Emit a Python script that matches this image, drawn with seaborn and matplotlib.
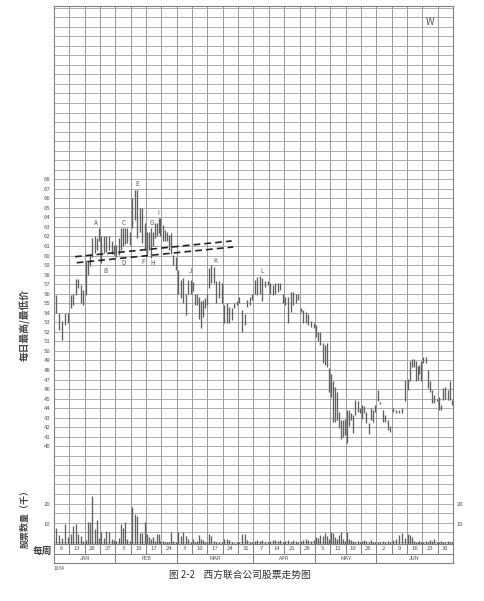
import matplotlib
matplotlib.use("Agg")
import matplotlib.pyplot as plt
import numpy as np
import pandas as pd
import seaborn as sns

# week-ending dates (Saturdays) and months
week_labels = ["6", "13", "20", "27", "3", "10", "17", "24", "3", "10", "17", "24", "31",
               "7", "14", "21", "28", "5", "12", "19", "26", "2", "9", "16", "23", "30"]
months = ["JAN", "FEB", "MAR", "APR", "MAY", "JUN"]
weeks_in_month = [4, 4, 5, 4, 4, 5]

# daily highs / lows, one list per week
high = [
    [55.9, 54.0, 53.1, 54.0, 54.0],
    [55.9, 56.0, 57.5, 57.5, 56.9, 56.4],
    [59.5, 59.4, 60.1, 61.8, 62.0, 61.8, 62.9],
    [62.0, 62.0, 62.0, 62.0, 61.5, 61.1],
    [61.1, 61.8, 62.9, 62.9, 62.9, 62.9, 62.5],
    [66.0, 66.9, 66.9, 65.0, 65.0, 63.4],
    [62.5, 62.5, 62.9, 62.5, 63.4, 63.4, 63.9, 63.9],
    [63.2, 62.7, 62.5, 62.2, 62.4, 60.1, 59.9],
    [58.5, 57.4, 57.6, 56.0, 57.4, 57.4],
    [57.2, 56.0, 56.0, 55.7, 55.2, 55.3, 55.5, 56.0],
    [58.7, 59.0, 58.8, 57.3, 57.3, 57.1],
    [54.8, 55.0, 54.6, 54.5, 55.0, 55.2],
    [55.7, 54.3, 53.9, 55.3, 55.7, 56.0],
    [57.4, 57.8, 57.9, 57.6, 57.3, 57.3],
    [57.1, 56.9, 57.1, 57.1, 57.1, 56.0],
    [55.7, 55.7, 56.2, 56.2, 56.0, 56.0],
    [54.5, 54.3, 54.1, 53.9, 53.1, 52.9],
    [52.7, 52.0, 52.0, 50.8, 50.6, 50.8, 48.2],
    [47.6, 46.8, 46.2, 45.7, 43.6, 42.8, 42.8, 42.9],
    [43.8, 43.8, 43.5, 43.3, 44.9, 44.7, 44.0],
    [44.3, 44.2, 43.6, 42.4, 44.0, 43.8, 44.3],
    [45.9, 44.6, 43.8, 43.3, 42.8, 42.1],
    [44.0, 43.8, 43.8, 44.0, 47.0],
    [47.1, 48.9, 49.2, 49.2, 48.9, 48.4, 48.5, 48.9],
    [49.4, 49.4, 48.0, 46.8, 45.9, 45.4, 45.0],
    [45.2, 44.3, 46.1, 46.2, 45.9, 46.8, 44.9],
]
low = [
    [54.0, 52.2, 51.1, 52.7, 52.9],
    [54.5, 54.8, 55.9, 56.6, 55.0, 54.8],
    [55.9, 58.0, 58.9, 59.9, 60.3, 60.6, 61.5],
    [59.2, 60.3, 60.4, 60.6, 60.2, 60.1],
    [59.9, 60.1, 60.6, 61.0, 61.2, 61.3, 61.1],
    [62.9, 63.7, 61.8, 62.5, 61.3, 60.6],
    [60.2, 60.6, 59.7, 61.0, 61.8, 62.0, 62.4, 62.0],
    [61.5, 61.5, 61.5, 60.6, 60.2, 59.0, 58.5],
    [56.0, 55.5, 55.0, 53.8, 56.0, 56.0],
    [56.3, 54.8, 54.8, 53.4, 52.4, 53.6, 54.5, 54.8],
    [56.6, 57.1, 57.1, 55.0, 55.5, 55.0],
    [52.9, 52.9, 52.9, 53.2, 54.5, 54.8],
    [55.0, 52.0, 52.7, 54.6, 54.8, 55.3],
    [56.0, 55.9, 56.0, 55.2, 56.7, 56.9],
    [56.0, 55.9, 56.0, 56.2, 56.4, 55.0],
    [54.8, 52.9, 54.1, 54.8, 55.0, 55.3],
    [54.1, 52.9, 52.9, 52.7, 52.5, 52.4],
    [51.5, 51.0, 50.6, 48.7, 48.5, 48.3, 45.7],
    [45.2, 42.6, 42.6, 42.8, 41.9, 40.8, 41.0, 41.2],
    [40.3, 42.1, 42.8, 41.4, 43.3, 43.6, 43.5],
    [42.9, 43.5, 42.4, 41.3, 42.8, 42.6, 43.6],
    [44.7, 44.4, 42.6, 42.6, 41.7, 41.5],
    [43.6, 43.5, 43.5, 43.5, 44.7],
    [45.9, 46.8, 48.3, 48.3, 46.8, 47.0, 47.6, 46.8],
    [48.7, 48.7, 46.1, 45.7, 44.5, 44.5, 44.7],
    [43.8, 43.8, 44.9, 45.0, 44.9, 44.9, 44.3],
]
# daily volume, thousands of shares
volume = [
    [7.8, 4.5, 2.8, 10.0, 3.3],
    [5.0, 9.2, 10.0, 5.0, 4.2, 1.7],
    [2.0, 11.0, 11.0, 24.2, 7.5, 12.0, 3.0],
    [6.0, 3.0, 6.7, 5.8, 2.5, 2.0],
    [1.5, 3.0, 10.0, 8.0, 11.0, 2.5, 1.5],
    [18.7, 15.0, 14.0, 5.5, 5.5, 10.8],
    [5.0, 3.3, 2.5, 3.3, 1.5, 5.0, 5.0, 1.7],
    [1.7, 1.0, 0.8, 1.0, 6.2, 1.7, 1.2],
    [5.8, 4.2, 6.2, 4.2, 2.5, 1.2],
    [2.5, 1.2, 1.7, 4.5, 2.5, 2.2, 1.0, 1.0],
    [5.0, 3.8, 1.7, 1.2, 0.8, 0.8],
    [2.5, 2.5, 2.2, 1.0, 0.5, 0.8],
    [1.0, 4.8, 4.8, 2.2, 0.8, 0.8],
    [1.5, 2.2, 1.5, 2.0, 1.0, 0.8],
    [1.5, 2.0, 2.2, 1.5, 2.0, 1.0],
    [1.5, 2.0, 1.0, 2.0, 1.5, 1.0],
    [1.5, 2.0, 2.5, 2.0, 1.5, 2.0],
    [3.6, 3.0, 4.3, 4.0, 5.3, 4.0, 2.5],
    [6.0, 5.3, 3.6, 2.6, 4.5, 6.0, 2.5, 1.5],
    [6.0, 2.5, 2.0, 1.5, 1.0, 1.5, 1.0],
    [1.5, 1.8, 1.5, 1.0, 2.2, 1.0, 1.0],
    [1.0, 1.0, 1.5, 1.2, 1.5, 1.0],
    [2.0, 2.6, 4.3, 5.3, 3.0],
    [4.8, 4.3, 3.6, 1.7, 1.0, 1.0, 1.5, 1.0],
    [1.0, 1.5, 1.0, 2.0, 1.5, 2.5, 1.0],
    [1.0, 1.5, 1.0, 1.0, 1.5, 1.0, 1.0],
]

price_ticks = list(range(40, 69))
vol_ticks = [10, 20]

# trend lines (week position, price) and swing-point letters
trend_upper_x = [1.37, 11.58]
trend_upper_y = [59.88, 61.53]
trend_lower_x = [1.48, 11.68]
trend_lower_y = [59.25, 60.90]
point_names = ["A", "B", "C", "D", "E", "F", "H", "G", "I", "J", "K", "L"]
point_x = [2.74, 3.37, 4.56, 4.56, 5.39, 5.78, 6.40, 6.36, 6.80, 8.90, 10.49, 13.53]
point_y = [63.4, 58.4, 63.4, 59.2, 67.5, 59.35, 59.2, 63.45, 64.5, 58.4, 59.46, 58.4]

rows = []
for w, (hs, ls, vs) in enumerate(zip(high, low, volume)):
    n = len(hs)
    for j in range(n):
        rows.append({"pos": w + (j + 0.5) / n, "high": hs[j], "low": ls[j], "vol": vs[j]})
df = pd.DataFrame(rows)

sns.set_theme(style="white")
plt.rcParams["font.family"] = ["Noto Sans CJK SC", "DejaVu Sans"]

GRID = "#9a9a9a"
BAR = "#606060"
TXT = "#555555"
W, H = 484, 601

fig = plt.figure(figsize=(W / 100, H / 100), dpi=100)
fig.patch.set_facecolor("white")
ax = fig.add_axes([54 / W, 57 / H, 399 / W, 538 / H])
ax.set_xlim(0, 26)
ax.set_ylim(29.755, 86.17)
for k in range(1, 26):
    ax.axvline(k, color=GRID, lw=0.7, zorder=1)
for p in range(30, 87):
    ax.axhline(p, color=GRID, lw=0.55, zorder=1)
for s in ax.spines.values():
    s.set_color("#808080")
    s.set_linewidth(0.8)

ax.vlines(df["pos"], df["low"], df["high"], color=BAR, lw=0.95, zorder=3)

trend = pd.DataFrame({
    "x": trend_upper_x + trend_lower_x,
    "y": trend_upper_y + trend_lower_y,
    "line": ["upper", "upper", "lower", "lower"],
})
for name, g in trend.groupby("line"):
    sns.lineplot(data=g, x="x", y="y", ax=ax, color="#222222", lw=1.2,
                 dashes=False, zorder=4).lines[-1].set_dashes([4, 2.5])
for t, x, y in zip(point_names, point_x, point_y):
    ax.text(x, y, t, fontsize=4.5, color=TXT, ha="center", va="center", zorder=5)
ax.text(24.5, 84.5, "W", fontsize=7, color=TXT, ha="center", va="center")

ax.set_xticks([])
ax.set_yticks(price_ticks)
ax.set_yticklabels([str(p) for p in price_ticks])
ax.tick_params(axis="y", length=0, labelsize=4.3, labelcolor=TXT,
               labelleft=True, labelright=True, pad=2.5)
ax.set_xlabel("")
ax.set_ylabel("")

ax2 = ax.twinx()
ax2.set_ylim(0, 269)
ax2.vlines(df["pos"], 0, df["vol"], color=BAR, lw=0.95)
ax2.set_yticks(vol_ticks)
ax2.set_yticklabels([str(v) for v in vol_ticks])
ax2.tick_params(axis="y", length=0, labelsize=4.3, labelcolor=TXT,
                labelleft=True, labelright=True, pad=2.5)
for s in ax2.spines.values():
    s.set_visible(False)

# week / month strip
axb = fig.add_axes([54 / W, 38 / H, 399 / W, 19 / H])
axb.set_xlim(0, 26)
axb.set_ylim(0, 2)
axb.set_xticks([])
axb.set_yticks([])
for s in axb.spines.values():
    s.set_color("#808080")
    s.set_linewidth(0.8)
axb.axhline(1, color="#808080", lw=0.7)
for k, lab in enumerate(week_labels):
    if k > 0:
        axb.plot([k, k], [1, 2], color="#808080", lw=0.7)
    axb.text(k + 0.5, 1.5, lab, fontsize=4.3, color=TXT, ha="center", va="center")
start = 0
for m, n in zip(months, weeks_in_month):
    if start > 0:
        axb.plot([start, start], [0, 1], color="#808080", lw=0.7)
    axb.text(start + n / 2, 0.5, m, fontsize=4, color=TXT, ha="center", va="center")
    start += n

fig.text(25 / W, 1 - 325 / H, "每日最高/最低价", rotation=90, ha="center", va="center",
         fontsize=7, fontweight="bold", color="#444444")
fig.text(25 / W, 1 - 517 / H, "股票数量（千）", rotation=90, ha="center", va="center",
         fontsize=6.5, fontweight="bold", color="#444444")
fig.text(42 / W, 1 - 551 / H, "每周", ha="center", va="center",
         fontsize=7, fontweight="bold", color="#444444")
fig.text(54 / W, 1 - 568 / H, "1934", ha="left", va="center", fontsize=3.5, color=TXT)
fig.text(240 / W, 1 - 575 / H, "图 2-2    西方联合公司股票走势图", ha="center", va="center",
         fontsize=7, color="#333333")

fig.savefig("out.png", dpi=100, facecolor="white")
